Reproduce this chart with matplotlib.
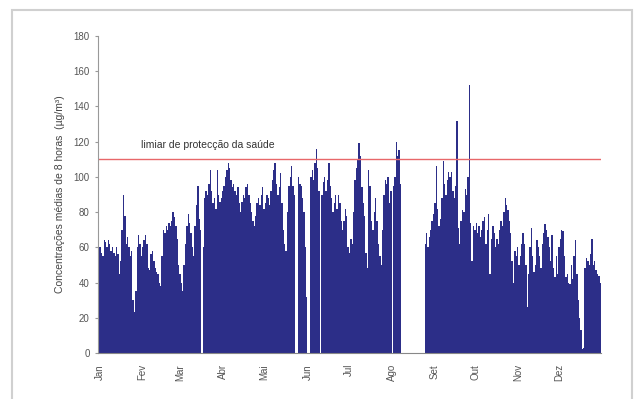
import matplotlib.pyplot as plt
import matplotlib.patches as patches
import numpy as np

plt.rcParams['font.family'] = ['Liberation Sans', 'DejaVu Sans']

# daily 8-hour mean ozone concentrations (ug/m3), one list per month
jan = [58, 60, 57, 55, 64, 63, 60, 64, 62, 58, 60, 57, 55, 60, 56, 45, 52, 70,
       90, 78, 62, 66, 60, 55, 58, 30, 23, 35, 60, 67, 62]
fev = [55, 60, 64, 67, 62, 48, 47, 56, 58, 52, 48, 46, 45, 40, 38, 55, 70, 68,
       72, 70, 74, 72, 75, 80, 77, 72, 65, 50]
mar = [45, 40, 35, 50, 62, 72, 79, 74, 68, 60, 55, 72, 84, 95, 76, 70, 0, 60,
       88, 92, 90, 96, 104, 92, 85, 88, 82, 104, 90, 86, 88]
abr = [92, 95, 100, 104, 108, 105, 98, 94, 96, 92, 90, 94, 85, 80, 86, 90, 88,
       94, 96, 90, 85, 80, 75, 72, 78, 85, 88, 84, 90, 94]
mai = [82, 85, 90, 88, 84, 92, 98, 104, 108, 96, 90, 94, 102, 85, 70, 62, 58,
       80, 95, 100, 106, 95, 90, 0, 0, 100, 96, 95, 88, 80, 60]
jun = [32, 0, 0, 100, 104, 98, 108, 116, 105, 92, 0, 90, 97, 100, 92, 98, 108,
       95, 88, 80, 85, 90, 82, 90, 85, 75, 70, 75, 82, 78]
jul = [60, 57, 65, 62, 80, 98, 105, 110, 119, 112, 94, 85, 78, 57, 48, 104, 95,
       75, 70, 80, 88, 75, 62, 55, 50, 70, 90, 98, 96, 100, 85]
ago = [92, 0, 95, 100, 120, 112, 115, 96, 0, 0, 0, 0, 0, 0, 0, 0, 0, 0, 0, 0,
       0, 0, 0, 0, 0, 62, 68, 60, 66, 70, 75]
set_ = [79, 85, 106, 82, 72, 76, 88, 109, 96, 90, 98, 103, 100, 103, 92, 88, 95,
        132, 71, 62, 75, 81, 80, 93, 90, 100, 152, 74, 52, 72]
out = [70, 74, 68, 72, 66, 70, 75, 77, 62, 70, 79, 45, 65, 72, 68, 60, 65, 62,
       70, 75, 72, 80, 88, 84, 81, 75, 68, 52, 40, 58, 55]
nov = [60, 50, 55, 62, 68, 62, 50, 26, 45, 60, 71, 55, 46, 50, 64, 60, 55, 48,
       62, 68, 73, 70, 66, 60, 52, 67, 48, 43, 55, 45]
dez = [60, 65, 70, 69, 55, 43, 45, 40, 39, 50, 42, 55, 64, 45, 30, 20, 13, 2, 3,
       48, 54, 52, 50, 56, 65, 50, 52, 47, 45, 44, 40]

months = [jan, fev, mar, abr, mai, jun, jul, ago, set_, out, nov, dez]
month_labels = ['Jan', 'Fev', 'Mar', 'Abr', 'Mai', 'Jun', 'Jul', 'Ago', 'Set', 'Out', 'Nov', 'Dez']
threshold = 110
threshold_label = 'limiar de protecção da saúde'

values = np.concatenate(months)
days = np.arange(len(values))
month_starts = np.cumsum([0] + [len(m) for m in months[:-1]])

fig = plt.figure(figsize=(6.42, 3.99), dpi=100)
# light frame around the chart
fig.patches.append(patches.Rectangle((12 / 642, -0.05), 620 / 642, 1.05 - 10 / 399,
                                     transform=fig.transFigure, fill=False,
                                     edgecolor='#d0d0d0', linewidth=1.5))

ax = fig.add_axes([98 / 642, 46 / 399, 503 / 642, 317 / 399])
ax.bar(days, values, width=1.0, color='#2c2e88', edgecolor='none', align='edge')
ax.axhline(threshold, color='#e8676a', linewidth=1.0)
ax.text(31, 118, threshold_label, fontsize=7.5, color='#333333', va='center', ha='left')

ax.set_xlim(0, len(values))
ax.set_ylim(0, 180)
ax.set_yticks(range(0, 181, 20))
ax.set_xticks(month_starts + 1)
ax.set_xticklabels(month_labels, rotation=90, fontsize=7, color='#555555')
ax.tick_params(axis='x', length=0, pad=8)
ax.tick_params(axis='y', length=2, labelsize=7, labelcolor='#555555', color='#999999', pad=4)
ax.set_ylabel('Concentrações médias de 8 horas  (µg/m³)', fontsize=7.5, color='#444444', labelpad=6)

for side in ['top', 'right']:
    ax.spines[side].set_visible(False)
ax.spines['left'].set_color('#999999')
ax.spines['bottom'].set_color('#888888')

fig.savefig('out.png', dpi=100)
